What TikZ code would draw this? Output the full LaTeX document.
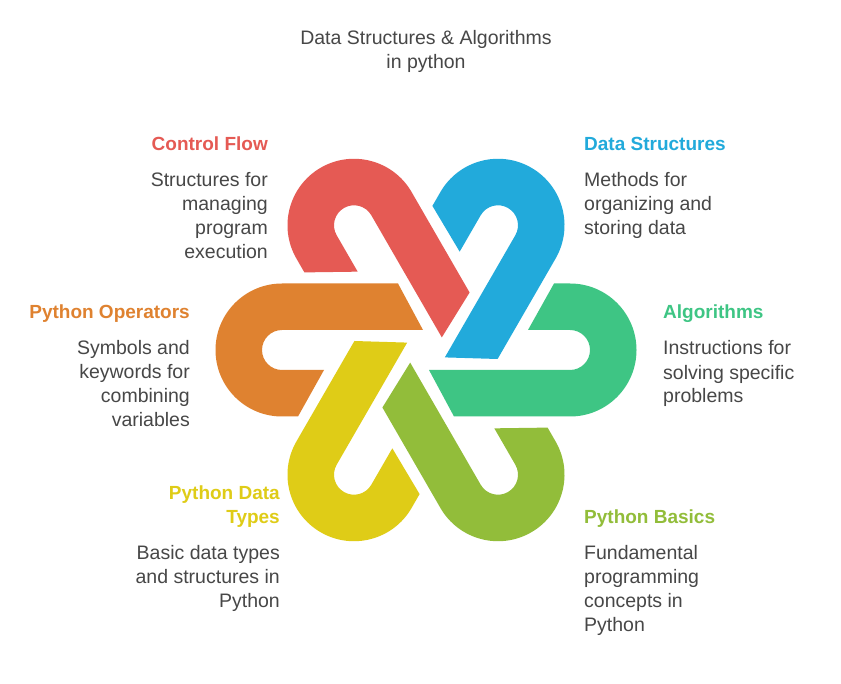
\documentclass[tikz,border=0pt]{standalone}
\usepackage{fontspec}
\setmainfont{Liberation Sans}
\begin{document}
\begin{tikzpicture}[x=1pt,y=-1pt,
  body/.style={font=\fontsize{19.5}{24}\selectfont, text=black!72, inner sep=0pt},
  head/.style={font=\fontsize{19}{24}\selectfont\bfseries, inner sep=0pt},
  loop/.style={fill=#1, draw=none}]
\definecolor{cRed}{HTML}{E55A54}
\definecolor{cBlue}{HTML}{22AADB}
\definecolor{cGreen}{HTML}{3EC584}
\definecolor{cLime}{HTML}{92BD3A}
\definecolor{cYellow}{HTML}{DFCC17}
\definecolor{cOrange}{HTML}{DF8230}
\useasboundingbox (0,0) rectangle (841,684);
\fill[white] (0,0) rectangle (841,684);
\def\loopshape{(-144,-66.5) -- (-28,-66.5) -- (-3,-20) -- (-144,-20) arc[start angle=-90,end angle=-270,radius=20] -- (-102,20) -- (-128,66.5) -- (-144,66.5) arc[start angle=90,end angle=270,radius=66.5] -- cycle}
\foreach \ang/\col in {0/cOrange,300/cRed,240/cBlue,180/cGreen,120/cLime,60/cYellow}{
  \fill[loop=\col, shift={(426,350)}, rotate=\ang] \loopshape;
}
\node[body, align=center, anchor=north] (title) at (426,28) {\strut Data Structures \& Algorithms\\\strut in python};
\node[head, text=cRed, anchor=north east] (cfh) at (268,134) {\strut Control Flow};
\node[body, align=right, anchor=north east] (cfb) at (268,170) {\strut Structures for\\managing\\program\\execution};
\node[head, text=cBlue, anchor=north west] (dsh) at (584,134) {\strut Data Structures};
\node[body, align=left, anchor=north west] (dsb) at (584,170) {\strut Methods for\\organizing and\\storing data};
\node[head, text=cOrange, anchor=north east] (poh) at (190,302) {\strut Python Operators};
\node[body, align=right, anchor=north east] (pob) at (190,338) {\strut Symbols and\\keywords for\\combining\\variables};
\node[head, text=cGreen, anchor=north west] (alh) at (663,302) {\strut Algorithms};
\node[body, align=left, anchor=north west] (alb) at (663,338) {\strut Instructions for\\solving specific\\problems};
\node[head, text=cYellow, align=right, anchor=north east] (pdh) at (280,482) {\strut Python Data\\Types};
\node[body, align=right, anchor=north east] (pdb) at (280,542) {\strut Basic data types\\and structures in\\Python};
\node[head, text=cLime, anchor=north west] (pbh) at (584,506) {\strut Python Basics};
\node[body, align=left, anchor=north west] (pbb) at (584,542) {\strut Fundamental\\programming\\concepts in\\Python};
\end{tikzpicture}
\end{document}
